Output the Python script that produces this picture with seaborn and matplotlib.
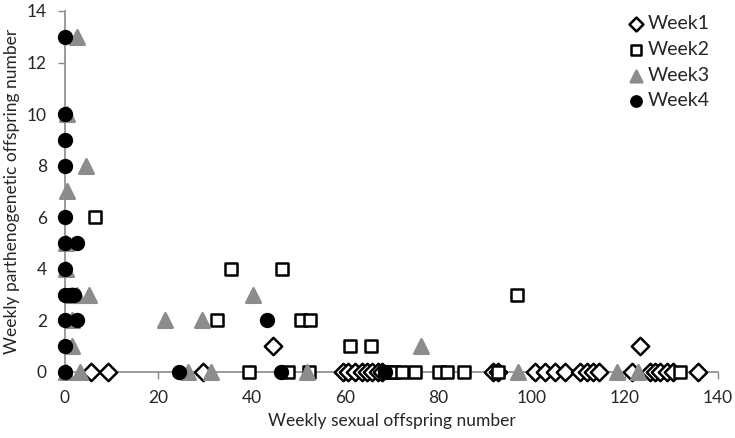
import numpy as np
import pandas as pd
import seaborn as sns
import matplotlib.pyplot as plt

# weekly sexual (x) vs parthenogenetic (y) offspring numbers
week1_x = [5.5, 9.2, 29.5, 44.5, 59.6, 60.7, 62.2, 63.6, 64.7, 65.8, 67, 68,
           91.8, 92.9, 100.8, 102.9, 105, 107.2, 110.4, 111.8, 113.2, 114.4,
           121.5, 123.3, 125.4, 126.5, 127.6, 129, 130.4, 135.7]
week1_y = [0, 0, 0, 1, 0, 0, 0, 0, 0, 0, 0, 0,
           0, 0, 0, 0, 0, 0, 0, 0, 0, 0,
           0, 1, 0, 0, 0, 0, 0, 0]

week2_x = [6.5, 35.5, 46.5, 97, 32.5, 50.5, 52.5, 61, 65.5, 39.5, 47.8, 52.3,
           68.5, 69.5, 70.5, 72.2, 75, 80.2, 81.8, 85.5, 92.8, 131.9]
week2_y = [6, 4, 4, 3, 2, 2, 2, 1, 1, 0, 0, 0,
           0, 0, 0, 0, 0, 0, 0, 0, 0, 0]

week3_x = [2.5, 0.5, 4.5, 0.5, 0.3, 0.3, 1.5, 2.5, 5.2, 40.2, 1.5, 21.4,
           29.3, 1.4, 76.3, 0.3, 3.2, 26.4, 31.2, 51.8, 97.1, 118.3, 122.9]
week3_y = [13, 10, 8, 7, 5, 4, 3, 3, 3, 3, 2, 2,
           2, 1, 1, 0, 0, 0, 0, 0, 0, 0, 0]

week4_x = [0, 0, 0, 0, 0, 0, 2.5, 0, 0, 1, 2, 0, 2.5, 43.2, 0, 0, 24.5, 46.3, 68.5]
week4_y = [13, 10, 9, 8, 6, 5, 5, 4, 3, 3, 3, 2, 2, 2, 1, 0, 0, 0, 0]

x_ticks = [0, 20, 40, 60, 80, 100, 120, 140]
y_ticks = [0, 2, 4, 6, 8, 10, 12, 14]

sns.set_style('white')
plt.rcParams['font.family'] = ['Lato', 'DejaVu Sans']

fig = plt.figure(figsize=(7.35, 4.38), dpi=100)
ax_ = fig.add_axes([0.0884, 0.1507, 0.8886, 0.8243])

series = [
    ('Week1', week1_x, week1_y, 'D', 'white', 'black', 78),
    ('Week2', week2_x, week2_y, 's', 'white', 'black', 66),
    ('Week3', week3_x, week3_y, '^', '#8c8c8c', '#8c8c8c', 110),
    ('Week4', week4_x, week4_y, 'o', 'black', 'black', 85),
]

for name, xs, ys, marker, face, edge, size in series:
    df = pd.DataFrame({'x': xs, 'y': ys})
    sns.scatterplot(
        data=df, x='x', y='y', ax=ax_,
        marker=marker, s=size,
        facecolor=face, edgecolor=edge, linewidth=1.8,
        label=name, clip_on=False, zorder=3,
        )

ax_.set_xlim(0, 140)
ax_.set_ylim(0, 14)
ax_.set_xticks(x_ticks)
ax_.set_yticks(y_ticks)

ax_.set_xlabel('Weekly sexual offspring number', fontsize=12.5, labelpad=5)
ax_.set_ylabel('Weekly parthenogenetic offspring number', fontsize=12.5, labelpad=5)

ax_.spines['top'].set_visible(False)
ax_.spines['right'].set_visible(False)
for side in ['left', 'bottom']:
    ax_.spines[side].set_color('#8a8a8a')
    ax_.spines[side].set_linewidth(1.2)

ax_.tick_params(axis='both', direction='out', length=5, width=1,
                color='#8a8a8a', labelsize=12.5, pad=8)
ax_.tick_params(left=True, bottom=True)

ax_.legend(
    loc='upper right', frameon=False, fontsize=14, markerscale=0.8,
    handlelength=0.8, handletextpad=0.25, labelspacing=0.45,
    borderaxespad=0.0, bbox_to_anchor=(1.0, 1.01),
    )

plt.savefig('out.png', dpi=100)
